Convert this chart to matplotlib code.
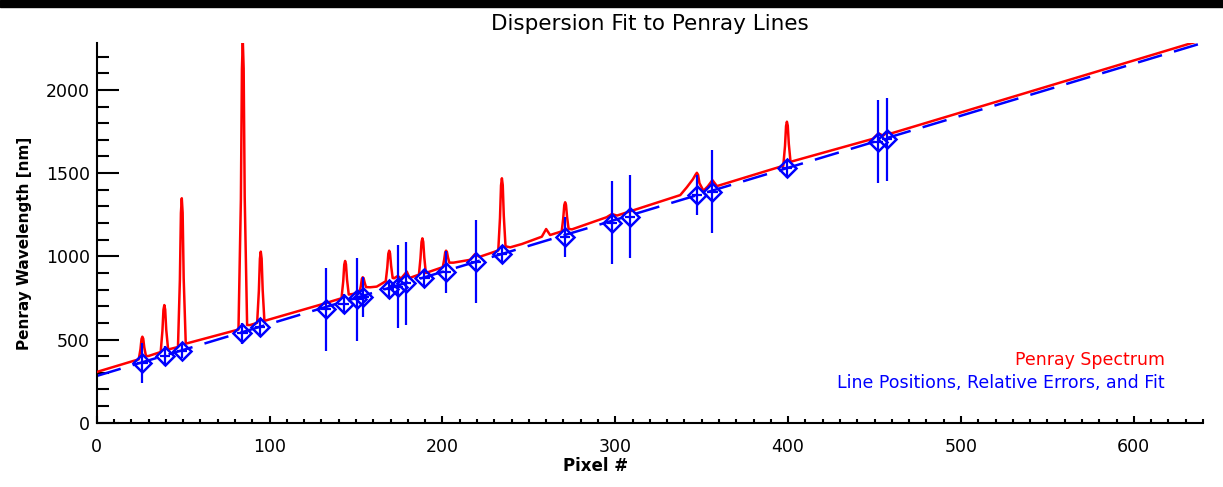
import matplotlib
matplotlib.use("Agg")
import matplotlib.pyplot as plt
from matplotlib.patches import Rectangle

# Penray spectrum as drawn: (pixel, plotted wavelength)
spectrum_pts = [
    (0, 305), (22, 374),
    (24.3, 381), (25.3, 442), (25.9, 503), (26.4, 517), (26.9, 505), (27.5, 453), (28.5, 400),
    (30, 401),
    (37, 425), (38.0, 552), (38.6, 679), (39.1, 707), (39.6, 680), (40.2, 560), (41.3, 440),
    (47, 455), (48.1, 857), (48.7, 1260), (49.2, 1349), (49.7, 1262), (50.3, 868), (51.5, 475),
    (82, 560), (83.4, 1343), (84.0, 2126), (84.5, 2300), (85.0, 2129), (85.6, 1358), (87, 587),
    (88.7, 587),
    (92.8, 600), (93.8, 793), (94.4, 985), (94.9, 1028), (95.4, 986), (96.0, 799), (97, 612),
    (130, 711),
    (141.6, 748), (142.6, 849), (143.2, 950), (143.7, 972), (144.2, 952), (144.8, 861), (145.8, 770),
    (152, 780), (152.8, 822), (153.4, 865), (153.9, 874), (154.4, 868), (155.0, 842), (155.8, 815),
    (158.2, 814), (162, 818),
    (167.2, 850), (168.1, 933), (168.7, 1016), (169.2, 1034), (169.7, 1018), (170.3, 944), (171.2, 870),
    (172, 868), (174.2, 882), (176, 866), (179.4, 908), (181, 870),
    (186.4, 890), (187.3, 988), (187.9, 1086), (188.4, 1108), (188.9, 1087), (189.5, 994), (190.4, 900),
    (200.2, 935), (201.0, 980), (201.6, 1024), (202.1, 1034), (202.6, 1027), (203.2, 994), (204, 962),
    (206.4, 962), (216, 979), (218.9, 1014), (221.5, 997),
    (232.3, 1035), (233.3, 1230), (233.9, 1426), (234.4, 1469), (234.9, 1428), (235.5, 1244), (236.5, 1060),
    (239.2, 1054), (246, 1074), (257.5, 1118), (260, 1164), (262.3, 1128),
    (269, 1150), (269.9, 1229), (270.5, 1308), (271, 1325), (271.5, 1309), (272.1, 1237), (273, 1165),
    (274.9, 1162), (295, 1235), (298, 1254), (301, 1245), (337.6, 1368),
    (341.4, 1415), (344.9, 1463), (346.4, 1490), (347.2, 1502), (347.9, 1490), (348.7, 1440), (351, 1394),
    (353.5, 1420), (356.2, 1458), (358.8, 1422),
    (397.2, 1544), (398.2, 1663), (398.8, 1783), (399.3, 1809), (399.8, 1785), (400.4, 1676), (401.4, 1568),
    (449, 1706), (452.3, 1739), (455, 1725), (457.2, 1745), (460, 1740), (640, 2302),
]
spec_x = [p[0] for p in spectrum_pts]
spec_y = [p[1] for p in spectrum_pts]

# Identified line positions with relative errors
line_px = [26.4, 39.5, 49.5, 84.3, 94.5, 132.6, 142.8, 150.5, 154.3, 168.8, 174.2, 179.0,
           189.6, 202.0, 219.3, 234.4, 271.0, 298.2, 308.6, 347.2, 356.2, 399.3, 452.0, 457.2]
line_wl = [357, 400, 431, 537, 573, 682, 715, 742, 757, 801, 817, 838,
           868, 907, 968, 1014, 1118, 1203, 1238, 1368, 1388, 1529, 1689, 1703]
line_err = [120, 60, 45, 65, 57, 250, 60, 250, 120, 55, 250, 250,
            55, 125, 250, 55, 120, 250, 250, 120, 250, 57, 250, 250]

# Linear dispersion fit end points
fit_x = [0, 640]
fit_y = [281, 2283]

fig = plt.figure(figsize=(12.23, 4.87), dpi=100)
fig.patches.append(Rectangle((0, 0.985), 1, 0.015, transform=fig.transFigure,
                             color='black', zorder=0))
ax = fig.add_axes([0.0791, 0.132, 0.9045, 0.779])

ax.plot(spec_x, spec_y, color='red', lw=1.8, zorder=3)
ax.plot(fit_x, fit_y, color='blue', lw=1.8, dashes=(10, 5), zorder=2)
ax.errorbar(line_px, line_wl, yerr=line_err, xerr=3, fmt='D', ms=9,
            mfc='none', mec='blue', mew=1.8, ecolor='blue', elinewidth=1.6,
            capsize=0, zorder=4)

ax.set_xlim(0, 640)
ax.set_ylim(0, 2280)
ax.set_xticks([0, 100, 200, 300, 400, 500, 600])
ax.set_xticks(range(0, 641, 10), minor=True)
ax.set_yticks([0, 500, 1000, 1500, 2000])
ax.set_yticks(range(0, 2281, 100), minor=True)
for s in ['top', 'right']:
    ax.spines[s].set_visible(False)
for s in ['left', 'bottom']:
    ax.spines[s].set_linewidth(1.5)
ax.tick_params(axis='y', which='major', direction='in', length=16, width=1.5,
               labelsize=12.5, pad=5)
ax.tick_params(axis='y', which='minor', direction='in', length=8.4, width=1.5)
ax.tick_params(axis='x', which='major', direction='in', length=5, width=1.5,
               labelsize=12.5, pad=11)
ax.tick_params(axis='x', which='minor', direction='in', length=2.7, width=1.5)

fig.text(0.531, 0.951, 'Dispersion Fit to Penray Lines', ha='center', va='center',
         fontsize=15.5)
fig.text(0.487, 0.043, 'Pixel #', ha='center', va='center', fontsize=12,
         fontweight='bold')
fig.text(0.0204, 0.501, 'Penray Wavelength [nm]', ha='center', va='center',
         rotation=90, fontsize=11, fontweight='bold')
ax.text(0.9657, 0.165, 'Penray Spectrum', color='red', ha='right', va='center',
        transform=ax.transAxes, fontsize=12.5)
ax.text(0.9657, 0.105, 'Line Positions, Relative Errors, and Fit', color='blue',
        ha='right', va='center', transform=ax.transAxes, fontsize=12.5)

plt.savefig('out.png', dpi=100)
